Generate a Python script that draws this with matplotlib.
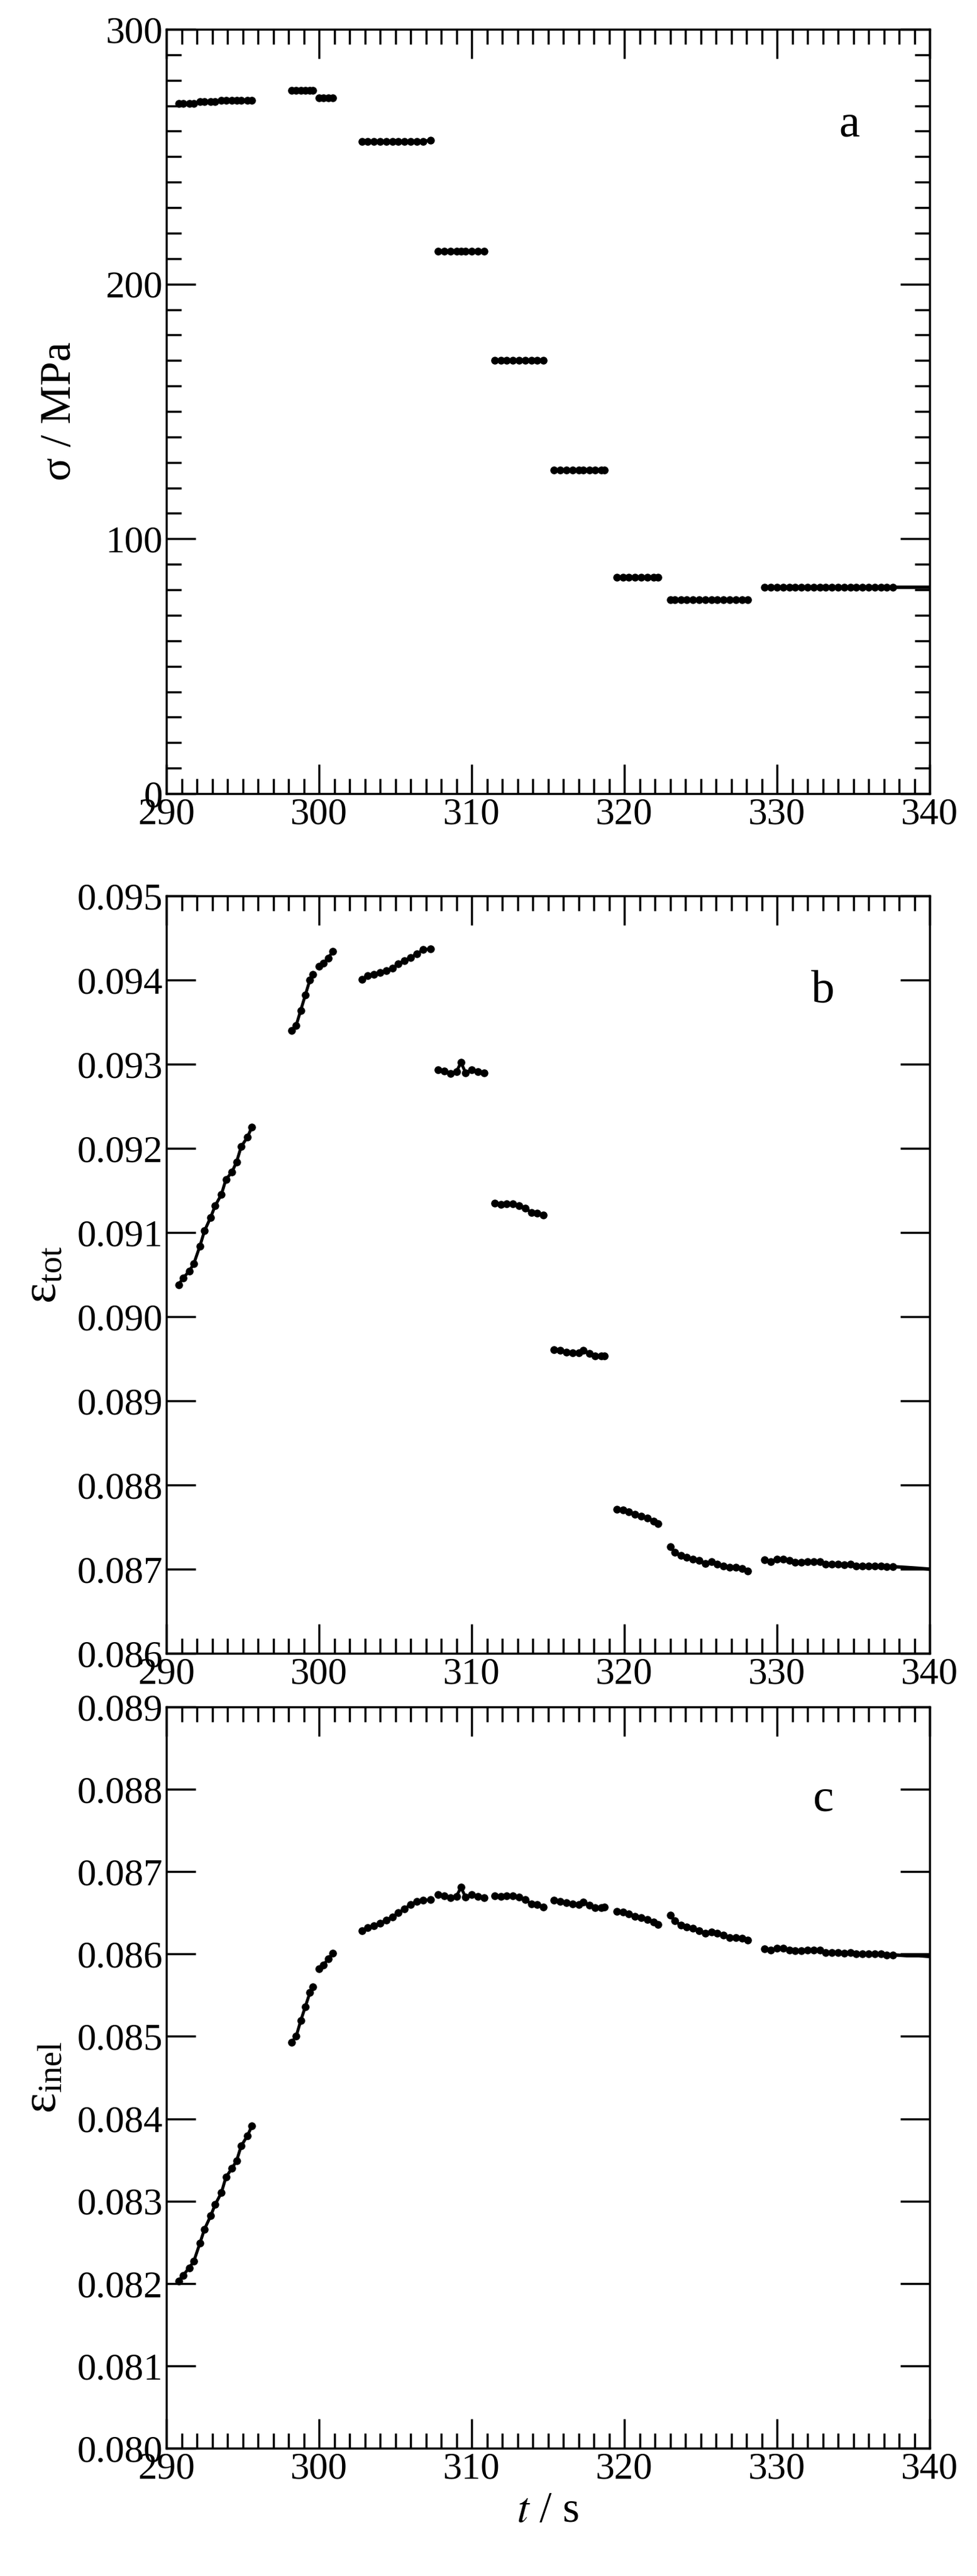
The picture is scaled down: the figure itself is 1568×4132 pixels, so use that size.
import matplotlib
matplotlib.use("Agg")
import matplotlib.pyplot as plt
from matplotlib.ticker import MultipleLocator

plt.rcParams['font.family'] = ['Liberation Serif', 'DejaVu Serif']
plt.rcParams['mathtext.fontset'] = 'stix'

# ---- data: segments (time, sigma, eps_tot, eps_inel) ----
t1 = [290.8, 291.1, 291.5, 291.8, 292.2, 292.5, 292.9, 293.2, 293.6, 293.9, 294.3, 294.6, 294.9, 295.3, 295.6]
s1 = [271, 271, 271, 271, 271.5, 271.5, 271.5, 271.5, 272, 272, 272, 272, 272, 272, 272]
e1 = [0.09038, 0.09046, 0.09054, 0.09063, 0.09084, 0.09102, 0.09118, 0.09132, 0.09145, 0.09163, 0.09172, 0.09184, 0.09202, 0.09213, 0.09225]
i1 = [0.08203, 0.08210, 0.08219, 0.08227, 0.08249, 0.08266, 0.08282, 0.08296, 0.08310, 0.08329, 0.08340, 0.08349, 0.08367, 0.08379, 0.08391]

t2 = [298.2, 298.5, 298.8, 299.1, 299.4, 299.6]
s2 = [276, 276, 276, 276, 276, 276]
e2 = [0.09340, 0.09346, 0.09364, 0.09382, 0.09400, 0.09407]
i2 = [0.08493, 0.08500, 0.08519, 0.08536, 0.08553, 0.08560]

t3 = [300.0, 300.3, 300.6, 300.9]
s3 = [273, 273, 273, 273]
e3 = [0.09416, 0.09420, 0.09426, 0.09434]
i3 = [0.08582, 0.08587, 0.08594, 0.08601]

t4 = [302.8, 303.2, 303.6, 304.0, 304.4, 304.8, 305.2, 305.6, 306.0, 306.4, 306.8, 307.3]
s4 = [256, 256, 256, 256, 256, 256, 256, 256, 256, 256, 256, 256.5]
e4 = [0.09401, 0.09405, 0.09407, 0.09409, 0.09411, 0.09414, 0.09419, 0.09423, 0.09427, 0.09431, 0.09436, 0.09437]
i4 = [0.08628, 0.08632, 0.08634, 0.08637, 0.08641, 0.08645, 0.08650, 0.08655, 0.08660, 0.08664, 0.08665, 0.08666]

t5 = [307.8, 308.2, 308.6, 309.0, 309.3, 309.6, 310.0, 310.4, 310.8]
s5 = [213, 213, 213, 213, 213, 213, 213, 213, 213]
e5 = [0.09293, 0.09292, 0.09289, 0.09291, 0.09302, 0.09290, 0.09293, 0.09291, 0.09290]
i5 = [0.08672, 0.08671, 0.08668, 0.08670, 0.08681, 0.08669, 0.08672, 0.08670, 0.08668]

t6 = [311.5, 311.9, 312.3, 312.7, 313.1, 313.5, 313.9, 314.3, 314.7]
s6 = [170, 170, 170, 170, 170, 170, 170, 170, 170]
e6 = [0.09135, 0.09133, 0.09134, 0.09134, 0.09132, 0.09129, 0.09124, 0.09123, 0.09121]
i6 = [0.08671, 0.08670, 0.08671, 0.08671, 0.08669, 0.08666, 0.08661, 0.08660, 0.08657]

t7 = [315.4, 315.8, 316.2, 316.6, 317.0, 317.3, 317.7, 318.1, 318.5, 318.7]
s7 = [127, 127, 127, 127, 127, 127, 127, 127, 127, 127]
e7 = [0.08961, 0.08960, 0.08958, 0.08957, 0.08957, 0.08960, 0.08956, 0.08953, 0.08953, 0.08953]
i7 = [0.08665, 0.08664, 0.08662, 0.08661, 0.08660, 0.08663, 0.08659, 0.08656, 0.08656, 0.08657]

t8 = [319.5, 319.9, 320.3, 320.7, 321.1, 321.5, 321.9, 322.2]
s8 = [85, 85, 85, 85, 85, 85, 85, 85]
e8 = [0.08771, 0.08770, 0.08768, 0.08765, 0.08763, 0.08761, 0.08757, 0.08754]
i8 = [0.08652, 0.08651, 0.08649, 0.08646, 0.08644, 0.08642, 0.08639, 0.08636]

t9 = [323.0, 323.3, 323.7, 324.1, 324.5, 324.9, 325.3, 325.7, 326.1, 326.5, 326.9, 327.3, 327.7, 328.1]
s9 = [76, 76, 76, 76, 76, 76, 76, 76, 76, 76, 76, 76, 76, 76]
e9 = [0.08727, 0.08720, 0.08716, 0.08714, 0.08712, 0.08710, 0.08707, 0.08709, 0.08706, 0.08704, 0.08702, 0.08702, 0.08701, 0.08698]
i9 = [0.08647, 0.08640, 0.08635, 0.08633, 0.08631, 0.08628, 0.08625, 0.08627, 0.08625, 0.08623, 0.08620, 0.08620, 0.08619, 0.08617]

t10 = [329.2, 329.6, 330.0, 330.4, 330.8, 331.2, 331.6, 332.0, 332.4, 332.8, 333.2, 333.6, 334.0, 334.4, 334.8, 335.2, 335.6, 336.0, 336.4, 336.8, 337.2, 337.6]
s10 = [81] * 22
e10 = [0.08711, 0.08709, 0.08712, 0.08712, 0.08710, 0.08708, 0.08708, 0.08709, 0.08709, 0.08709, 0.08706, 0.08706, 0.08706, 0.08705, 0.08706, 0.08704, 0.08704, 0.08704, 0.08704, 0.08704, 0.08703, 0.08703]
i10 = [0.08606, 0.08605, 0.08607, 0.08607, 0.08605, 0.08604, 0.08604, 0.08605, 0.08605, 0.08605, 0.08602, 0.08602, 0.08602, 0.08601, 0.08602, 0.08600, 0.08600, 0.08600, 0.08600, 0.08600, 0.08599, 0.08599]

# tail (line only)
t_tail = [337.6, 338.5, 339.3, 340.0]
s_tail = [81, 81, 81, 81]
e_tail = [0.08703, 0.08702, 0.08701, 0.08700]
i_tail = [0.08599, 0.08598, 0.08598, 0.08597]

segs_t = [t1, t2, t3, t4, t5, t6, t7, t8, t9, t10]
segs_s = [s1, s2, s3, s4, s5, s6, s7, s8, s9, s10]
segs_e = [e1, e2, e3, e4, e5, e6, e7, e8, e9, e10]
segs_i = [i1, i2, i3, i4, i5, i6, i7, i8, i9, i10]

fig = plt.figure(figsize=(15.68, 41.32), dpi=100)
L, W = 267/1568, (1492-267)/1568
H = 4132
axa = fig.add_axes([L, 1 - 1273/H, W, (1273-47)/H])
axb = fig.add_axes([L, 1 - 2652/H, W, (2652-1437)/H])
axc = fig.add_axes([L, 1 - 3927/H, W, (3927-2738)/H])

FS = 44
def style(ax, ylim, ymaj, ymin=None):
    ax.set_xlim(290, 340)
    ax.set_ylim(*ylim)
    ax.xaxis.set_major_locator(MultipleLocator(10))
    ax.xaxis.set_minor_locator(MultipleLocator(1))
    ax.yaxis.set_major_locator(MultipleLocator(ymaj))
    if ymin:
        ax.yaxis.set_minor_locator(MultipleLocator(ymin))
    ax.tick_params(which='both', direction='in', top=True, right=True, labelsize=FS, width=2.5)
    ax.tick_params(which='major', length=34, pad=4)
    ax.tick_params(which='minor', length=17)
    for sp in ax.spines.values():
        sp.set_linewidth(2.5)

for ax, ys, tail in [(axa, segs_s, s_tail), (axb, segs_e, e_tail), (axc, segs_i, i_tail)]:
    for tt, yy in zip(segs_t, ys):
        ax.plot(tt, yy, '-o', color='black', lw=3.5, ms=8)
    ax.plot(t_tail, tail, '-', color='black', lw=4)

style(axa, (0, 300), 100, 10)
style(axb, (0.086, 0.095), 0.001)
style(axc, (0.080, 0.089), 0.001)
axb.yaxis.set_major_formatter(plt.FormatStrFormatter('%.3f'))
axc.yaxis.set_major_formatter(plt.FormatStrFormatter('%.3f'))

axa.set_ylabel('σ / MPa', fontsize=50, labelpad=30)
axb.set_ylabel(r'$\mathregular{\varepsilon_{tot}}$', fontsize=56, labelpad=12)
axc.set_ylabel(r'$\mathregular{\varepsilon_{inel}}$', fontsize=56, labelpad=12)
axc.set_xlabel(r'$t$ / s', fontsize=50, labelpad=6)

axa.text(0.895, 0.86, 'a', transform=axa.transAxes, fontsize=54, ha='center')
axb.text(0.86, 0.86, 'b', transform=axb.transAxes, fontsize=54, ha='center')
axc.text(0.86, 0.86, 'c', transform=axc.transAxes, fontsize=54, ha='center')

fig.savefig('out.png', dpi=100)
